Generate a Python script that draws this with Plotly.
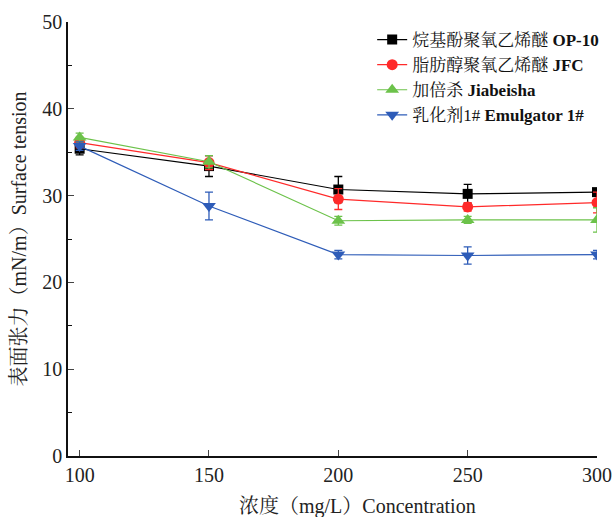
import plotly.graph_objects as go

conc = [100, 150, 200, 250, 300]
names = ["烷基酚聚氧乙烯醚 <b>OP-10</b>", "脂肪醇聚氧乙烯醚 <b>JFC</b>",
         "加倍杀 <b>Jiabeisha</b>", "乳化剂1# <b>Emulgator 1#</b>"]
op10 = [35.4, 33.4, 30.7, 30.2, 30.4]
op10_err = [0.7, 1.2, 1.5, 1.1, 0.3]
jfc = [36.1, 33.8, 29.6, 28.7, 29.2]
jfc_err = [0.6, 0.8, 1.2, 0.5, 1.2]
jbs = [36.7, 33.9, 27.1, 27.2, 27.2]
jbs_err = [0.5, 0.7, 0.5, 0.4, 1.4]
emu = [35.7, 28.8, 23.2, 23.1, 23.2]
emu_err = [0.5, 1.6, 0.5, 1.0, 0.5]

series = [
    (op10, op10_err, "#000000", "square", 10),
    (jfc, jfc_err, "#ff2a2a", "circle", 11),
    (jbs, jbs_err, "#6cc24a", "triangle-up", 12),
    (emu, emu_err, "#2e5cb8", "triangle-down", 12),
]

serif = "Liberation Serif, Noto Serif CJK SC, Noto Sans CJK SC, serif"

fig = go.Figure()
for (vals, errs, col, sym, sz), nm in zip(series, names):
    fig.add_trace(go.Scatter(
        x=conc, y=vals, name=nm, mode="lines+markers",
        line=dict(color=col, width=1.2),
        marker=dict(symbol=sym, size=sz, color=col),
        error_y=dict(type="data", array=errs, visible=True, color=col,
                     thickness=1.3, width=4),
    ))

fig.update_layout(
    width=614, height=517,
    margin=dict(l=68, r=17, t=22, b=61, autoexpand=False),
    paper_bgcolor="white", plot_bgcolor="white",
    font=dict(family=serif, color="#222"),
    showlegend=True,
    legend=dict(x=0.575, y=1.0, xanchor="left", yanchor="top",
                bgcolor="rgba(0,0,0,0)", font=dict(size=17, family=serif, color="#111"),
                tracegroupgap=0, itemwidth=30),
    xaxis=dict(range=[95.5, 300], tickvals=conc, ticks="inside", ticklen=6,
               showline=True, linecolor="#111", linewidth=1.5, showgrid=False,
               zeroline=False, tickfont=dict(size=20, family=serif), automargin=False),
    yaxis=dict(range=[0, 50], tickvals=[0, 10, 20, 30, 40, 50], ticks="inside", ticklen=6,
               minor=dict(tickvals=[5, 15, 25, 35, 45], ticks="inside", ticklen=4, tickcolor="#111"),
               showline=True, linecolor="#111", linewidth=1.5, showgrid=False,
               zeroline=False, tickfont=dict(size=20, family=serif), automargin=False,
               title=dict(text="表面张力（mN/m）Surface tension", font=dict(size=20, family=serif), standoff=10)),
    annotations=[dict(text="浓度（mg/L）Concentration", xref="paper", yref="paper",
                      x=0.548, y=-0.117, xanchor="center", yanchor="middle",
                      showarrow=False, font=dict(size=20, family=serif, color="#222"))],
)

fig.write_html("out.html", config={"displayModeBar": False})

with open("out.html", "r", encoding="utf-8") as f:
    html = f.read()
html = html.replace("<body>", '<body style="margin:0;overflow:hidden">', 1)
with open("out.html", "w", encoding="utf-8") as f:
    f.write(html)
